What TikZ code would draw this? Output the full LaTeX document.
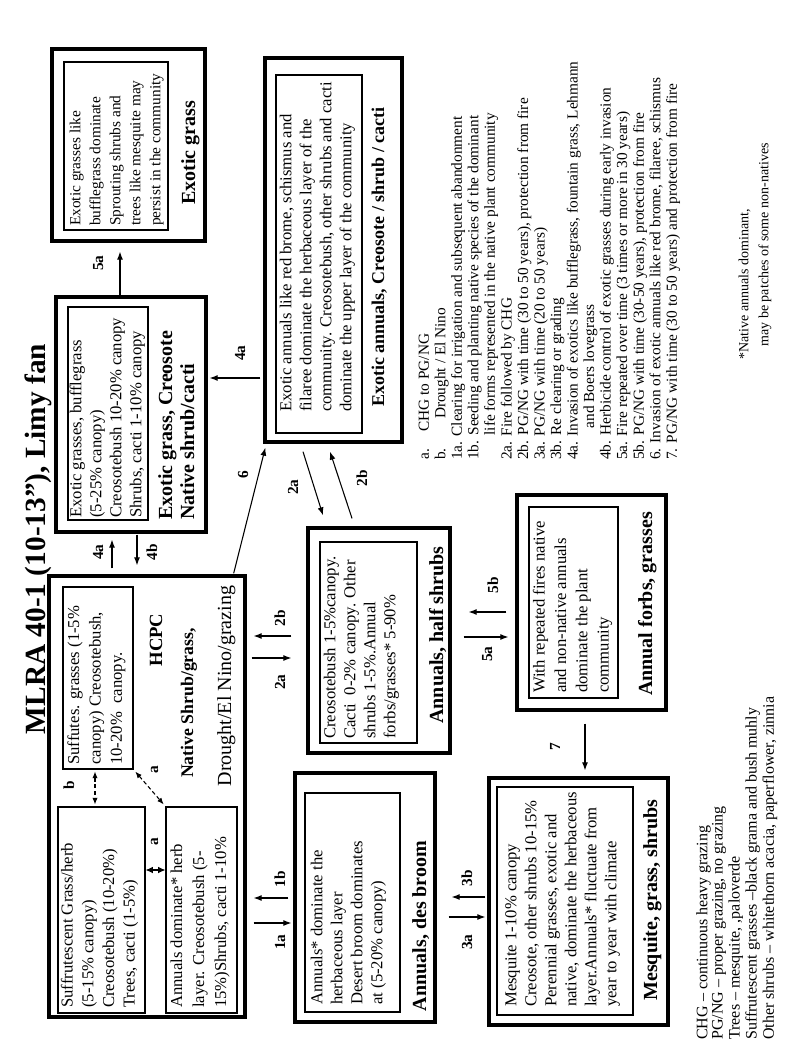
\documentclass[tikz,border=0pt]{standalone}
\usepackage{fontspec}
\setmainfont{Liberation Serif}
\usetikzlibrary{fit,calc,arrows.meta}
\newcommand\myBody{\fontsize{12.5}{15}\selectfont}
\begin{document}
\begin{tikzpicture}[x=0.75pt,y=-0.75pt,
  obox/.style={draw, line width=2.5pt, inner sep=0pt},
  ibox/.style={draw, line width=0.8pt, inner sep=0pt},
  body/.style={rotate=90, anchor=north west, align=left, inner sep=0pt, font=\myBody},
  ttl/.style={rotate=90, anchor=base, inner sep=0pt, font=\bfseries\fontsize{15}{18}\selectfont},
  lbl/.style={rotate=90, anchor=base, inner sep=0pt, font=\bfseries\fontsize{11.5}{13}\selectfont},
  leg/.style={rotate=90, anchor=north west, align=left, inner sep=0pt, font=\fontsize{11.5}{12.4}\selectfont},
  arr/.style={-{Latex[length=6pt,width=4.5pt]}, line width=0.8pt},
  darr/.style={{Latex[length=5pt,width=4pt]}-{Latex[length=5pt,width=4pt]}, line width=0.8pt, dash pattern=on 3pt off 2pt},
  sarr/.style={{Latex[length=5.5pt,width=5pt]}-{Latex[length=5.5pt,width=5pt]}, line width=0.8pt}
]
\fill[white] (0,0) rectangle (800,1046);
\useasboundingbox (0,0) rectangle (800,1046);

% title
\node[rotate=90, anchor=base, inner sep=0pt, font=\bfseries\fontsize{22}{26}\selectfont] (title) at (45,539) {MLRA 40-1 (10-13”), Limy fan};

% A : Exotic grass
\node[obox, fit={(52,49) (205,241)}] (A) {};
\node[ibox, fit={(64,62) (168,230)}] (Ai) {};
\node[body, font=\fontsize{11.5}{15}\selectfont] (At) at (66,226) {\strut Exotic grasses like\\\strut bufflegrass dominate\\\strut Sprouting shrubs and\\\strut trees like mesquite may\\\strut persist in the community};
\node[ttl] (An) at (195,153) {Exotic grass};

% B : Exotic annuals, Creosote / shrub / cacti
\node[obox, fit={(265,58) (402,442)}] (B) {};
\node[ibox, fit={(276,75) (362,433)}] (Bi) {};
\node[body] (Bt) at (277,412) {\strut Exotic annuals like red brome, schismus and\\\strut filaree dominate the herbaceous layer of the\\\strut community. Creosotebush, other shrubs and cacti\\\strut dominate the upper layer of the community};
\node[ttl, font=\bfseries\fontsize{13.5}{16}\selectfont] (Bn) at (384,257) {Exotic annuals, Creosote / shrub / cacti};

% C : Exotic grass, Creosote
\node[obox, fit={(56,297) (206,532)}] (C) {};
\node[ibox, fit={(68,307) (148,520)}] (Ci) {};
\node[body] (Ct) at (67,518) {\strut Exotic grasses, bufflegrass\\\strut (5-25\% canopy)\\\strut Creosotebush 10-20\% canopy\\\strut Shrubs, cacti 1-10\% canopy};
\node[ttl, anchor=base west] (Cn1) at (172,520) {Exotic grass, Creosote};
\node[ttl, anchor=base west] (Cn2) at (194,520) {Native shrub/cacti};

% D : HCPC
\node[obox, fit={(49,576) (245,1017)}] (D) {};
\node[ibox, fit={(63,587) (133,769)}] (D1) {};
\node[ibox, fit={(58,807) (145,1013)}] (D2) {};
\node[ibox, fit={(166,807) (237,1013)}] (D3) {};
\node[body, font=\fontsize{12.5}{16}\selectfont] (D1t) at (64,765) {\strut Suffutes. grasses (1-5\%\\\strut canopy) Creosotebush,\\\strut 10-20\%\ \ canopy.};
\node[body, font=\fontsize{12.5}{15.5}\selectfont] (D2t) at (58,1008) {\strut Suffrutescent Grass/herb\\\strut (5-15\% canopy)\\\strut Creosotebush (10-20\%)\\\strut Trees, cacti (1-5\%)};
\node[body, font=\fontsize{12.5}{16.5}\selectfont] (D3t) at (166.5,1008) {\strut Annuals dominate* herb\\\strut layer. Creosotebush (5-\\\strut 15\%)Shrubs, cacti 1-10\%};
\node[ttl, font=\bfseries\fontsize{14}{17}\selectfont] (Dh) at (162,640) {HCPC};
\node[ttl, font=\bfseries\fontsize{13.3}{16}\selectfont] (Dn) at (193,703) {Native Shrub/grass,};
\node[ttl, font=\fontsize{15}{18}\selectfont] (Dd) at (231,686) {Drought/El Nino/grazing};
\node[lbl] (lb) at (74,785) {b};
\node[lbl] (la1) at (158,770) {a};
\node[lbl] (la2) at (158,842) {a};
\draw[darr, shorten <=1.5pt, shorten >=1.5pt] (95,0 |- D1.south) -- (95,0 |- D2.north);
\draw[darr, shorten <=2pt, shorten >=2pt] (D1.south east) -- (D3.north west);
\draw[sarr] (D2.east |- 0,870) -- (D3.west |- 0,870);

% E : Annuals, half shrubs
\node[obox, fit={(308,528) (450,753)}] (E) {};
\node[ibox, fit={(320,542) (417,743)}] (Ei) {};
\node[body] (Et) at (321,739) {\strut Creosotebush 1-5\%canopy.\\\strut Cacti\ \ 0-2\% canopy. Other\\\strut shrubs 1-5\%.Annual\\\strut forbs/grasses* 5-90\%};
\node[ttl] (En) at (443,635) {Annuals, half shrubs};

% F : Annuals, des broom
\node[obox, fit={(295,773) (435,1022)}] (F) {};
\node[ibox, fit={(305,793) (400,1012)}] (Fi) {};
\node[body] (Ft) at (308,1005) {\strut Annuals* dominate the\\\strut herbaceous layer\\\strut Desert broom dominates\\\strut at (5-20\% canopy)};
\node[ttl] (Fn) at (426,926) {Annuals, des broom};

% G : Annual forbs, grasses
\node[obox, fit={(517,495) (666,710)}] (G) {};
\node[ibox, fit={(529,507) (618,698)}] (Gi) {};
\node[body, font=\fontsize{12.5}{16}\selectfont] (Gt) at (529.5,693) {\strut With repeated fires native\\\strut and non-native annuals\\\strut dominate the plant\\\strut community};
\node[ttl] (Gn) at (652,604) {Annual forbs, grasses};

% H : Mesquite, grass, shrubs
\node[obox, fit={(489,778) (668,1025)}] (H) {};
\node[ibox, fit={(497,787) (633,1015)}] (Hi) {};
\node[body] (Ht) at (502,1007) {\strut Mesquite 1-10\% canopy\\\strut Creosote, other shrubs 10-15\%\\\strut Perennial grasses, exotic and\\\strut native, dominate the herbaceous\\\strut layer.Annuals* fluctuate from\\\strut year to year with climate};
\node[ttl] (Hn) at (657,900) {Mesquite, grass, shrubs};

% connectors
\draw[arr, shorten >=6.75pt] (120,0 |- C.north) -- (120,0 |- A.south);
\draw[arr, shorten <=2.25pt, shorten >=1.5pt] (B.west |- 0,378) -- (C.east |- 0,378);
\draw[arr, shorten <=4.5pt, shorten >=4.5pt] (112,0 |- D.north) -- (112,0 |- C.south);
\draw[arr, shorten <=0.75pt, shorten >=6.75pt] (137,0 |- C.south) -- (137,0 |- D.north);
\draw[arr] ($(D.north east)+(-13,-1)$) -- ($(B.south west)+(2,4)$);
\draw[arr] ($(B.south)+(-30.5,8)$) -- ($(E.north)+(-56,-11)$);
\draw[arr] ($(E.north)+(-27,-8)$) -- ($(B.south)+(-3.5,8)$);
\draw[arr, shorten <=3.75pt, shorten >=11.25pt] (D.east |- 0,658) -- (E.west |- 0,658);
\draw[arr, shorten <=11.25pt, shorten >=5.25pt] (E.west |- 0,636) -- (D.east |- 0,636);
\draw[arr, shorten <=5.25pt, shorten >=1.5pt] (D.east |- 0,923) -- (F.west |- 0,923);
\draw[arr, shorten <=3.75pt, shorten >=5.25pt] (F.west |- 0,898) -- (D.east |- 0,898);
\draw[arr, shorten <=9pt, shorten >=1.5pt] (F.east |- 0,917) -- (H.west |- 0,917);
\draw[arr, shorten <=1.5pt, shorten >=11.25pt] (H.west |- 0,897) -- (F.east |- 0,897);
\draw[arr, shorten <=9pt, shorten >=5.25pt] (E.east |- 0,637) -- (G.west |- 0,637);
\draw[arr, shorten <=6.75pt, shorten >=12.75pt] (G.west |- 0,612) -- (E.east |- 0,612);
\draw[arr, shorten <=9pt, shorten >=4.5pt] (585,0 |- G.south) -- (585,0 |- H.north);

% connector labels
\node[lbl] (l5a) at (103,263) {5a};
\node[lbl] (l4aD) at (103,552) {4a};
\node[lbl] (l4b) at (157,552) {4b};
\node[lbl] (l4aB) at (245,353) {4a};
\node[lbl] (l6) at (248,475) {6};
\node[lbl] (l2aB) at (298,487) {2a};
\node[lbl] (l2bB) at (367,478) {2b};
\node[lbl] (l2aD) at (285,682) {2a};
\node[lbl] (l2bD) at (285,618) {2b};
\node[lbl] (l1a) at (285,942) {1a};
\node[lbl] (l1b) at (285,879) {1b};
\node[lbl] (l3a) at (472,942) {3a};
\node[lbl] (l3b) at (472,878) {3b};
\node[lbl] (l5aE) at (492,654) {5a};
\node[lbl] (l5b) at (498,585) {5b};
\node[lbl] (l7) at (560,747) {7};

% legends
\node[leg] (legend) at (417,460) {%
\strut a.\hspace*{13pt}CHG to PG/NG\\
\strut b.\hspace*{22pt}Drought / El Nino\\
\strut 1a. Clearing for irrigation and subsequent abandonment\\
\strut 1b. Seeding and planting native species of the dominant\\
\strut\phantom{1b. }life forms represented in the native plant community\\
\strut 2a. Fire followed by CHG\\
\strut 2b. PG/NG with time (30 to 50 years), protection from fire\\
\strut 3a. PG/NG with time (20 to 50 years)\\
\strut 3b. Re clearing or grading\\
\strut 4a. Invasion of exotics like bufflegrass, fountain grass, Lehmann\\
\strut\phantom{4a. }\hspace*{6pt}and Boers lovegrass\\
\strut 4b. Herbicide control of exotic grasses during early invasion\\
\strut 5a. Fire repeated over time (3 times or more in 30 years)\\
\strut 5b. PG/NG with time (30-50 years), protection from fire\\
\strut 6. Invasion of exotic annuals like red brome, filaree, schismus\\
\strut 7. PG/NG with time (30 to 50 years) and protection from fire};
\node[leg, font=\fontsize{10.5}{15}\selectfont] (note) at (734,360) {\strut *Native annuals dominant,\\\strut\hspace*{10pt}may be patches of some non-natives};
\node[leg, font=\fontsize{12}{11.4}\selectfont] (abbr) at (696,1040) {%
\strut CHG – continuous heavy grazing\\
\strut PG/NG – proper grazing, no grazing\\
\strut Trees – mesquite, ,paloverde\\
\strut Suffrutescent grasses –black grama and bush muhly\\
\strut Other shrubs – whitethorn acacia, paperflower, zinnia};
\end{tikzpicture}
\end{document}
